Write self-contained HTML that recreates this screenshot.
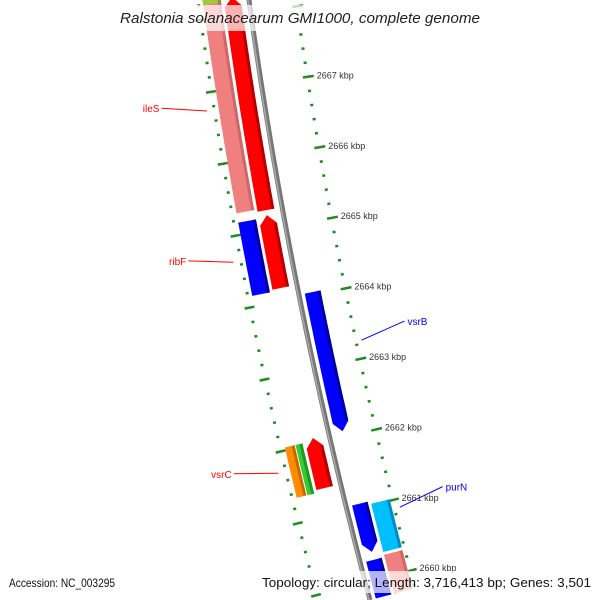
<!DOCTYPE html>
<html><head><meta charset="utf-8"><style>
html,body{margin:0;padding:0;background:#fff;overflow:hidden;width:600px;height:600px;}
svg{display:block;font-family:"Liberation Sans",sans-serif;overflow:hidden;}
</style></head><body>
<svg id="map" width="600" height="600" viewBox="0 0 600 600">
<g id="rings"></g>
<g id="backbone"></g>
<g id="genes"></g>
<g id="labels"></g>
<rect x="0" y="5" width="600" height="26" fill="#fff" opacity="0.7"/>
<text x="120" y="23" font-size="15" font-style="italic" fill="#222" textLength="360" lengthAdjust="spacingAndGlyphs">Ralstonia solanacearum GMI1000, complete genome</text>
<rect x="0" y="571" width="600" height="22" fill="#fff" opacity="0.7"/>
<text x="9" y="587" font-size="12" fill="#111" textLength="106" lengthAdjust="spacingAndGlyphs">Accession: NC_003295</text>
<text x="262" y="587" font-size="13" fill="#111" textLength="329" lengthAdjust="spacingAndGlyphs">Topology: circular; Length: 3,716,413 bp; Genes: 3,501</text>
</svg>
<script>
// data
const geneNames  = ["ileS-pink","ileS","top-green","ribF","ribF-red","vsrB","vsrC-orange","vsrC-green","vsrC","purN","purN-cyan","bottom-blue","bottom-pink"];
const geneStart  = [2665.30,2665.27,2668.20,2664.15,2664.18,2662.08,2661.34,2661.34,2661.38,2660.38,2660.34,2659.40,2659.40];
const geneEnd    = [2668.60,2668.25,2668.70,2665.17,2665.20,2664.04,2662.04,2662.04,2662.08,2661.06,2661.02,2660.27,2660.30];
const geneStrand = [0,1,0,0,1,-1,0,0,1,-1,0,0,0];
const geneTrack  = ["oL","iL","oL","oL","iL","iR","oLa","oLb","iL","iR","oR","iR","oR"];
const geneColor  = ["#f08080","#ff0000","#9acd32","#0000ff","#ff0000","#0000ff","#ff8c00","#32cd32","#ff0000","#0000ff","#00bfff","#0000ff","#f08080"];
const tickLabels = [2660,2661,2662,2663,2664,2665,2666,2667];
const labelText  = ["ileS","ribF","vsrB","vsrC","purN"];
const labelKbp   = [2666.75,2664.65,2663.25,2661.72,2660.88];
const labelColor = ["#ff0000","#ff0000","#0000ff","#ff0000","#0000ff"];

const NS="http://www.w3.org/2000/svg";
const A=0.1383,B=0.0001056;
function xB(t){return 249+A*t+B*t*t;}
function P(t,r){const s=A+2*B*t,l=Math.sqrt(1+s*s);return [xB(t)+r/l,t-r*s/l];}
function T(k){return 84+(2667-k)*71.2;}
const tracks={oL:[-46,-28],iL:[-25,-8],iR:[6,22],oR:[25,44],oLa:[-46,-36],oLb:[-35,-28]};
function mk(tag,attrs,parent){const e=document.createElementNS(NS,tag);for(const k in attrs)e.setAttribute(k,attrs[k]);parent.appendChild(e);return e;}
function pts(a){return a.map(p=>p[0].toFixed(1)+","+p[1].toFixed(1)).join(" ");}

// rings
const rings=document.getElementById('rings');
for(let i=13295;i<=13345;i++){
  const k=i/5,t=T(k),maj=(i%5===0);
  if(t>610)continue;
  [[45,48,42,53],[-52,-49,-56,-46]].forEach(function(rr){
    const a=maj?P(t,rr[2]):P(t,rr[0]),b=maj?P(t,rr[3]):P(t,rr[1]);
    if(a[1]>600&&b[1]>600)return;
    const ln=mk('line',{x1:a[0],y1:a[1],x2:b[0],y2:b[1],stroke:"#1f8a1f","stroke-width":2.5},rings);
    
    
  });
}
tickLabels.forEach(function(k){
  const p=P(T(k),56);
  const tx=mk('text',{x:p[0],y:p[1]+3,"font-size":9,fill:"#333"},rings);
  tx.textContent=k+" kbp";
  
  
});

// backbone
const bb=document.getElementById('backbone');
const bp=[];for(let t=-20;t<=600;t+=10)bp.push(P(t,0));
const b1=mk('polyline',{points:pts(bp),fill:"none",stroke:"#777","stroke-width":5},bb);


const bp2=[];for(let t=-20;t<=600;t+=10)bp2.push(P(t,-1));
const b2=mk('polyline',{points:pts(bp2),fill:"none",stroke:"#aaa","stroke-width":1.5},bb);



// genes
const gg=document.getElementById('genes');
function shade(c){return {"#f08080":"#c86060","#ff0000":"#a00000","#0000ff":"#00008a","#00bfff":"#0080b0","#ff8c00":"#b86000","#32cd32":"#1e8a1e","#9acd32":"#6a9a20"}[c]||"#333";}
geneNames.forEach(function(n,i){
  const ta=T(geneEnd[i]),tb=Math.min(T(geneStart[i]),600);
  const r=tracks[geneTrack[i]],r0=r[0],r1=r[1],rm=(r0+r1)/2,hl=9;
  let s1=ta,s2=tb;
  if(geneStrand[i]===1)s1=ta+hl;
  if(geneStrand[i]===-1)s2=tb-hl;
  const full=[];
  const L=[],R=[];
  for(let t=s1;t<=s2;t+=5){L.push(P(t,r0));R.push(P(t,r1));}
  L.push(P(s2,r0));R.push(P(s2,r1));
  if(geneStrand[i]===1)full.push(P(ta,rm));
  full.push(...R);
  if(geneStrand[i]===-1)full.push(P(tb,rm));
  full.push(...L.reverse());
  const g=mk('polygon',{points:pts(full),fill:geneColor[i]},gg);
  
  
  const D=[],E=[];
  for(let t=s1;t<=s2;t+=5){D.push(P(t,r1-3));E.push(P(t,r1));}
  D.push(P(s2,r1-3));E.push(P(s2,r1));
  const sp=D.concat(E.reverse());
  const sh=mk('polygon',{points:pts(sp),fill:shade(geneColor[i]),opacity:0.8},gg);
  
  
});

// labels
const lg=document.getElementById('labels');
labelText.forEach(function(s,i){
  const t=T(labelKbp[i]);
  const left=labelColor[i]==="#ff0000";
  const a=left?P(t,-58):P(t,52);
  const b=left?P(t,-104):P(t,96);
  const ln=mk('line',{x1:a[0],y1:a[1],x2:b[0],y2:b[1]-10,stroke:labelColor[i],"stroke-width":1},lg);
  
  
  const tx=mk('text',{x:left?b[0]-2:b[0]+3,y:b[1]-6,"font-size":10,fill:labelColor[i],"text-anchor":left?"end":"start"},lg);
  tx.textContent=s;
  
  
});
</script>
</body></html>
